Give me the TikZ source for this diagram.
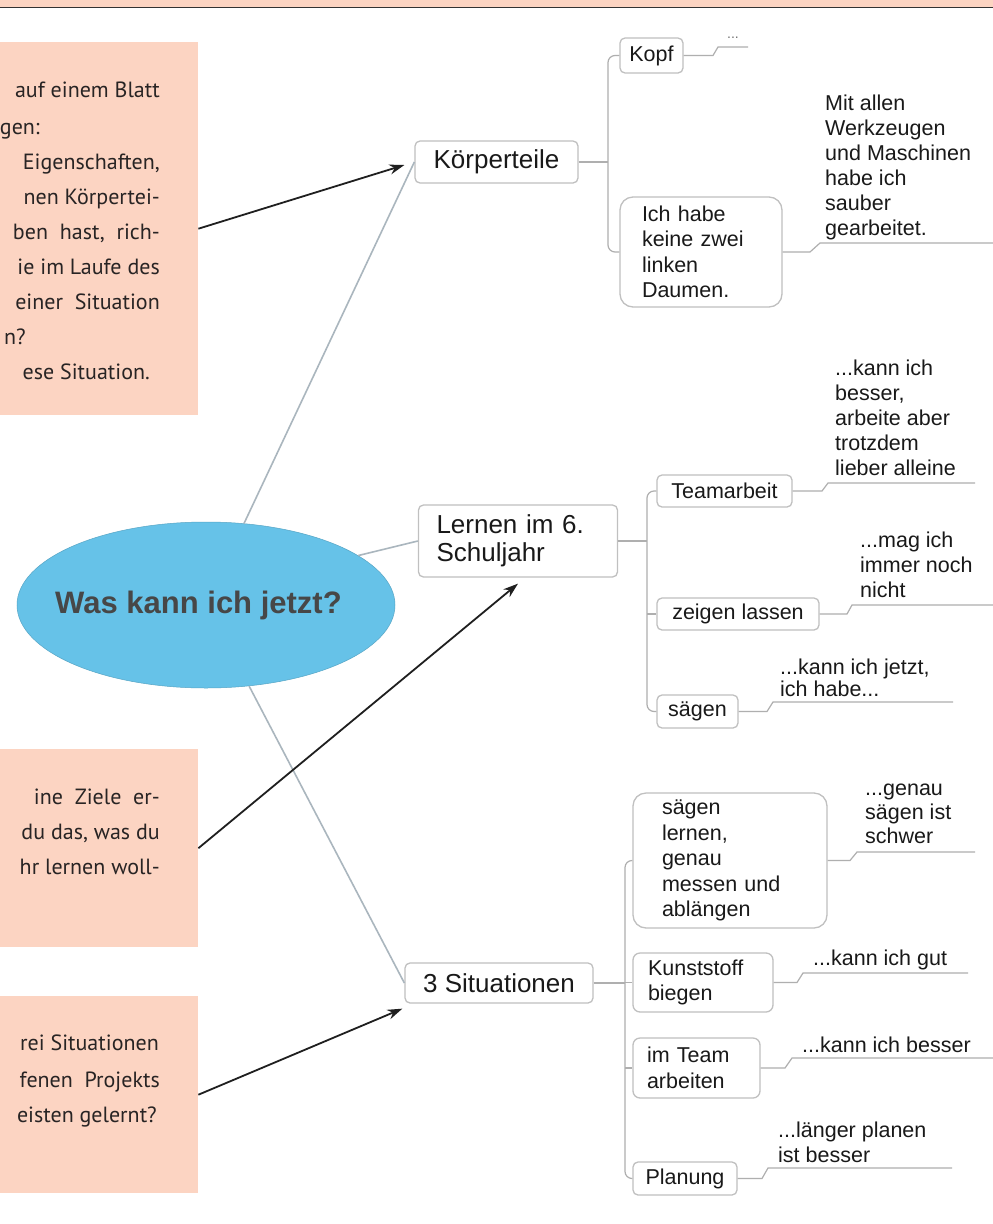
\documentclass[tikz,border=0pt]{standalone}
\usepackage{fontspec}
\setmainfont{Liberation Sans}
\newfontfamily\peachfont{PT Sans}
\usetikzlibrary{arrows.meta,shapes.geometric}
\definecolor{peach}{RGB}{252,212,194}
\definecolor{bubble}{RGB}{102,194,232}
\definecolor{boxline}{RGB}{192,192,192}
\definecolor{conncol}{RGB}{175,175,175}
\definecolor{mainline}{RGB}{170,182,190}
\definecolor{txt}{RGB}{25,25,25}
\definecolor{ptxt}{RGB}{40,36,36}
\begin{document}
\begin{tikzpicture}[x=1pt,y=-1pt,
  mainbox/.style={draw=boxline, line width=1.3pt, rounded corners=5pt, fill=white, text=txt, font=\fontsize{26}{28}\selectfont, inner sep=0pt},
  childbox/.style={draw=boxline, line width=1.3pt, rounded corners=5pt, fill=white, text=txt, font=\fontsize{21.5}{25.5}\selectfont, inner sep=0pt},
  bigbox/.style={childbox, rounded corners=13pt, align=left},
  leaf/.style={text=txt, font=\fontsize{21.5}{25}\selectfont, inner sep=0pt, align=left, anchor=west},
  conn/.style={draw=conncol, line width=1.2pt},
  trunk/.style={conn, rounded corners=7pt},
  mainconn/.style={draw=mainline, line width=1.6pt},
  arr/.style={draw=black!88, line width=1.8pt, -{Stealth[length=15pt,width=10pt]}},
  peachbox/.style={fill=peach, draw=none, inner sep=0pt, anchor=north west},
  ptext/.style={font=\peachfont\fontsize{22}{35}\selectfont, text=ptxt, inner sep=0pt, anchor=base east},
]
\useasboundingbox (0,0) rectangle (993,1224);
\clip (0,0) rectangle (993,1224);
\fill[white] (0,0) rectangle (993,1224);
% top band
\fill[peach] (0,0) rectangle (993,7);
\draw[black!80, line width=1.4pt] (0,7.5) -- (993,7.5);

% peach boxes
\node[peachbox, minimum width=203pt, minimum height=373pt] (q1) at (-5,42) {};
\node[peachbox, minimum width=203pt, minimum height=198pt] (q2) at (-5,749) {};
\node[peachbox, minimum width=203pt, minimum height=197pt] (q3) at (-5,996) {};

\node[ptext] (q1a) at (160,97) {auf einem Blatt};
\node[ptext] (q1b) at (40,134) {gen:};
\node[ptext] (q1c) at (160,169) {Eigenschaften,};
\node[ptext] (q1d) at (160,204) {nen Körpertei-};
\node[ptext] (q1e) at (160,239) {ben \ hast, \ rich-};
\node[ptext] (q1f) at (160,274) {ie im Laufe des};
\node[ptext] (q1g) at (160,309) {einer \ Situation};
\node[ptext] (q1h) at (26,344) {n?};
\node[ptext] (q1i) at (150,379) {ese Situation.};

\node[ptext] (q2a) at (160,804) {ine \ Ziele \ er-};
\node[ptext] (q2b) at (160,839) {du das, was du};
\node[ptext] (q2c) at (160,874) {hr lernen woll-};

\node[ptext] (q3a) at (159,1050) {rei Situationen};
\node[ptext] (q3b) at (160,1087) {fenen \ Projekts};
\node[ptext] (q3c) at (157,1122) {eisten gelernt?};

% central ellipse
\node[ellipse, fill=bubble, draw=bubble!85!black, line width=0.5pt, minimum width=378pt, minimum height=166pt, inner sep=0pt,
      font=\bfseries\fontsize{31}{34}\selectfont, text=black!72] (center) at (206,605)
      {\makebox[0pt][c]{Was kann ich jetzt?\hspace{15pt}}};

% main nodes
\node[mainbox, minimum width=163pt, minimum height=42pt] (koerper) at (496.5,162) {Körperteile};
\node[mainbox, text width=163pt, inner xsep=18pt, minimum height=72pt, align=left] (lernen) at (518,541) {Lernen im 6.\\Schuljahr};
\node[mainbox, minimum width=188pt, minimum height=40pt] (situ) at (499,983) {3 Situationen};

% main connectors
\draw[mainconn] (center.65) -- (koerper.west);
\draw[mainconn] (center.18) -- (lernen.west);
\draw[mainconn] (center.-62) -- (situ.west);

% Körperteile children
\node[childbox, minimum width=63pt, minimum height=35pt] (kopf) at (651.5,55.5) {Kopf};
\node[bigbox, text width=118pt, inner xsep=22pt, minimum height=110pt] (ichhabe) at (701,252) {Ich habe\\keine zwei\\linken\\Daumen.};
\coordinate (t1) at (608,162);
\draw[conn] (koerper.east) -- (t1);
\draw[trunk] (kopf.west) -- (kopf.west -| t1) -- (ichhabe.west -| t1) -- (ichhabe.west);

% Lernen children
\node[childbox, minimum width=135pt, minimum height=32pt] (team) at (724.5,491) {Teamarbeit};
\node[childbox, minimum width=162pt, minimum height=32pt] (zeigen) at (738,614) {zeigen lassen};
\node[childbox, minimum width=81pt, minimum height=33pt] (saegen) at (697.5,711.5) {sägen};
\coordinate (t2) at (647,541);
\draw[conn] (lernen.east) -- (t2);
\draw[trunk] (team.west) -- (team.west -| t2) -- (saegen.west -| t2) -- (saegen.west);
\draw[conn] (zeigen.west -| t2) -- (zeigen.west);

% 3 Situationen children
\node[bigbox, text width=136pt, inner xsep=29pt, minimum height=135pt] (sl) at (730,860.5) {sägen\\lernen,\\genau\\messen und\\ablängen};
\node[childbox, rounded corners=7pt, align=left, text width=110pt, inner xsep=15pt, minimum height=59pt] (kunst) at (703,982.5) {Kunststoff\\biegen};
\node[childbox, rounded corners=7pt, align=left, text width=99pt, inner xsep=14pt, minimum height=60pt] (team2) at (696.5,1068) {im Team\\arbeiten};
\node[childbox, minimum width=104pt, minimum height=33pt] (plan) at (685,1178.5) {Planung};
\coordinate (t3) at (625,983);
\draw[conn] (situ.east) -- (t3);
\draw[trunk] (sl.west) -- (sl.west -| t3) -- (plan.west -| t3) -- (plan.west);
\draw[conn] (kunst.west -| t3) -- (kunst.west);
\draw[conn] (team2.west -| t3) -- (team2.west);

% leaves
\node[leaf, font=\fontsize{14}{16}\selectfont, text=black!55] (l0) at (727,38) {...};
\node[leaf] (l1) at (825,167.5) {Mit allen\\Werkzeugen\\und Maschinen\\habe ich\\sauber\\gearbeitet.};
\node[leaf] (l2) at (835,418) {...kann ich\\besser,\\arbeite aber\\trotzdem\\lieber alleine};
\node[leaf] (l3) at (860,565) {...mag ich\\immer noch\\nicht};
\node[leaf, font=\fontsize{21.5}{21.5}\selectfont] (l4) at (780,678) {...kann ich jetzt,\\ich habe...};
\node[leaf, font=\fontsize{21.5}{24}\selectfont] (l5) at (865,813.5) {...genau\\sägen ist\\schwer};
\node[leaf] (l6) at (813,960) {...kann ich gut};
\node[leaf] (l7) at (802,1045) {...kann ich besser};
\node[leaf] (l8) at (778,1142.5) {...länger planen\\ist besser};

\coordinate (u0) at (748,47);
\coordinate (u1) at (993,243);
\coordinate (u2) at (975,483);
\coordinate (u3) at (993,605);
\coordinate (u4) at (953,702);
\coordinate (u5) at (975,852);
\coordinate (u6) at (968,973);
\coordinate (u7) at (993,1058);
\coordinate (u8) at (952,1168);

\draw[conn] (kopf.east) -- (713,55.5) -- (718,47) -- (u0);
\draw[conn] (ichhabe.east) -- (810,252) -- (820,243) -- (u1);
\draw[conn] (team.east) -- (822,491) -- (828,483) -- (u2);
\draw[conn] (zeigen.east) -- (847,614) -- (852,605) -- (u3);
\draw[conn] (saegen.east) -- (767,711.5) -- (773,702) -- (u4);
\draw[conn] (sl.east) -- (850,860.5) -- (857,852) -- (u5);
\draw[conn] (kunst.east) -- (797,982.5) -- (803,973) -- (u6);
\draw[conn] (team2.east) -- (785,1068) -- (792,1058) -- (u7);
\draw[conn] (plan.east) -- (762,1178.5) -- (768,1168) -- (u8);

% arrows
\draw[arr] (q1.east) -- ([xshift=-10pt,yshift=-3pt]koerper.west);
\draw[arr] (q2.east) -- ([yshift=-6pt]lernen.south);
\draw[arr] (q3.east) -- ([xshift=-2pt,yshift=-5pt]situ.south west);
\end{tikzpicture}
\end{document}
